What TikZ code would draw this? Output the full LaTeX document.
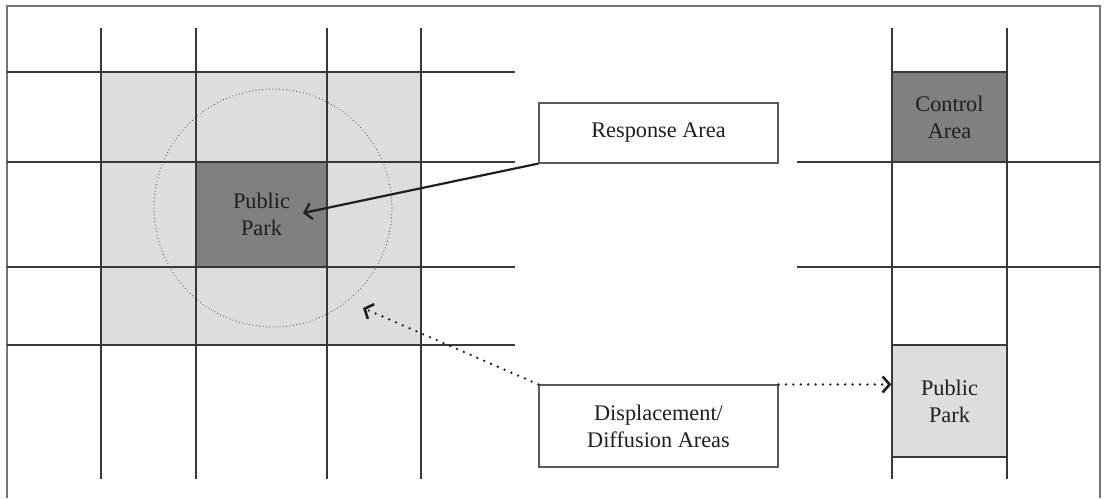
\documentclass[tikz,border=0pt]{standalone}
\usepackage{fontspec}
\setmainfont{Liberation Serif}
\usetikzlibrary{arrows.meta}
\definecolor{lightshade}{HTML}{DCDDDF}
\definecolor{darkshade}{HTML}{808080}
\definecolor{gridink}{HTML}{383838}
\begin{document}
\begin{tikzpicture}[
    x=1pt, y=-1pt,
    every node/.style={font=\fontsize{22.3}{27}\selectfont, text=black!88, align=center, inner sep=0pt},
    cell/.style={rectangle, draw=gridink, line width=1.3pt, minimum width=115pt},
    labelbox/.style={rectangle, draw=black!65, line width=1.1pt, fill=white, minimum width=239pt},
    gridrule/.style={draw=gridink, line width=1.2pt},
    ringline/.style={draw=black!75, line width=1.1pt, line cap=round, dash pattern=on 0pt off 3.4pt},
    pointer/.style={draw=black!88, line width=2.2pt, -{Straight Barb[length=7pt,width=16pt]}},
    dotpointer/.style={pointer, line width=2.6pt, line cap=round, dash pattern=on 0pt off 7.4pt}
]
\useasboundingbox (0,0) rectangle (1105,498);
\draw[gridrule, draw=black!55] (7,498) -- (7,6) -- (1100,6) -- (1100,498);
\fill[lightshade] (101,72) rectangle (421,345);
\foreach \gx in {101,196,327,421,892,1007}
    \draw[gridrule] (\gx,28) -- (\gx,479);
\foreach \gy in {72,162,267,345}
    \draw[gridrule] (7,\gy) -- (515,\gy);
\foreach \gy in {162,267}
    \draw[gridrule] (797,\gy) -- (1100,\gy);
\draw[ringline] (273,208) circle (119pt);
\node[cell, fill=darkshade, minimum width=131pt, minimum height=105pt] (park) at (261.5,214.5) {Public\\Park};
\node[cell, fill=darkshade, minimum height=90pt] (control) at (949.5,117) {Control\\Area};
\node[cell, fill=lightshade, minimum height=112pt] (rpark) at (949.5,401) {Public\\Park};
\node[labelbox, minimum height=60pt] (response) at (658.5,133) {Response Area};
\node[labelbox, minimum height=82pt] (disp) at (658.5,426) {Displacement/\\Diffusion Areas};
\coordinate (parkpoint) at (303,213);
\coordinate (zonepoint) at (363,308);
\draw[pointer] (response.south west) -- (parkpoint);
\draw[dotpointer] (disp.north west) -- (zonepoint);
\draw[dotpointer] (disp.north east) -- (disp.north east -| rpark.west);
\end{tikzpicture}
\end{document}
